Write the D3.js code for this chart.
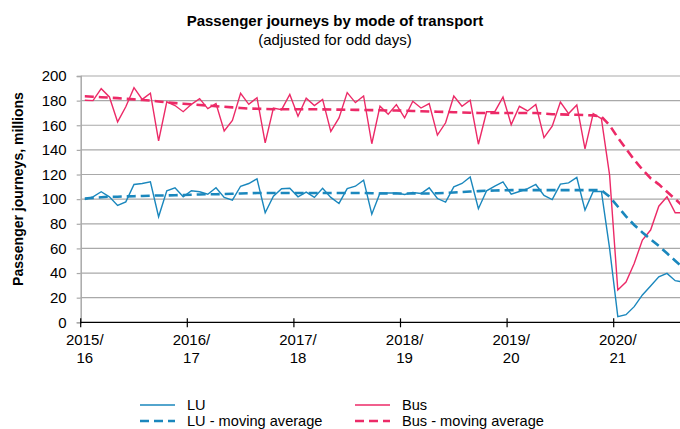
<!DOCTYPE html>
<html>
<head>
<meta charset="utf-8">
<script src="https://cdn.jsdelivr.net/npm/d3@7"></script>
<style>
  body { margin: 0; background: #fff; }
  svg { display: block; font-family: "Liberation Sans", Arial, sans-serif; }
</style>
</head>
<body>
<script>
// financial years, 13 four-week periods each
var years = ["2015/16", "2016/17", "2017/18", "2018/19", "2019/20", "2020/21"];

var lu = [
  99.7, 101.9, 106, 101.9, 94.9, 97.8, 111.9, 112.7, 114, 85.7, 106.8, 109.2, 101.9,
  106.8, 106, 104, 109.2, 101.4, 99.2, 110.5, 112.7, 116.5, 89, 102.4, 108.4, 108.9,
  101.9, 105.7, 101.4, 108.9, 101.4, 96.5, 108.6, 110.5, 115.4, 87.8, 105, 105, 105,
  103.8, 105.4, 104.6, 109.2, 100.5, 97.6, 110, 112.7, 118, 92.2, 106.8, 110.5, 114,
  104, 106.2, 108.6, 111.9, 103, 99.7, 112.2, 113.2, 117.6, 91.1, 106.2, 106.2, 60,
  4.6, 6.2, 12.7, 22.2, 29.5, 37, 39.7, 33.8, 32.7
];

var bus = [
  180.3, 180, 189.7, 183, 162.7, 175, 190.5, 181, 186, 147.3, 179, 176, 171,
  177, 181.6, 173.5, 177.6, 155.4, 164, 186, 177, 182.4, 145.7, 174, 172.7, 185,
  167.3, 182, 176, 181, 155, 166, 186.5, 178.4, 183.8, 145, 175.5, 169, 176.8,
  166, 179.5, 174, 177.6, 152, 162, 183.8, 175.4, 180.3, 144.6, 171, 171, 183,
  160.5, 175.4, 171.6, 176.8, 150, 159.2, 178.9, 169.5, 176.5, 140.8, 169.5, 165.4, 119.5,
  26.2, 32.7, 47.8, 66.8, 74.9, 94.3, 101.9, 88.9, 88.9
];

var luAvg = [
  100.5, 101, 101.5, 102, 102, 102.2, 102.4, 102.6, 102.8, 103, 103, 103.2, 103.4,
  103.6, 103.8, 104, 104, 104.2, 104.4, 104.6, 104.8, 105, 105, 105, 105, 105,
  105, 105, 105, 105, 105, 105, 105, 105, 105, 104.8, 104.6, 104.6, 104.6,
  104.6, 104.6, 104.6, 104.6, 104.8, 105, 105.4, 105.8, 106.2, 106.5, 106.8, 107, 107.2,
  107.3, 107.3, 107.3, 107.3, 107.3, 107.3, 107.3, 107.3, 107.3, 107.3, 107.3, 107.3, 102,
  94, 86, 79, 73, 67.5, 62, 56, 50, 44
];

var busAvg = [
  183.5, 183.2, 182.8, 182.4, 182, 181.5, 181, 180.5, 180, 179.3, 178.6, 178, 177.5,
  177, 176.5, 176, 175.5, 175, 174.5, 174, 173.6, 173.4, 173.2, 173, 173, 173,
  173, 173, 173, 172.9, 172.8, 172.7, 172.6, 172.5, 172.4, 172.3, 172.2, 172, 172,
  171.8, 171.6, 171.4, 171.2, 171, 170.8, 170.6, 170.4, 170.2, 170, 170, 170, 170,
  170, 170, 170, 170, 169.5, 169, 168.8, 168.6, 168.5, 168.3, 168, 167, 160,
  150, 141, 132, 124, 117, 112, 106, 100, 94
];

var yTicks = [0, 20, 40, 60, 80, 100, 120, 140, 160, 180, 200];

var W = 680, H = 429,
    plotLeft = 80.7, plotTop = 76, plotBottom = 322.3,
    perYear = 13, step = 8.2;

var blue = "#1a87bd", pink = "#ec2a67", grid = "#a9a9a9";

var svg = d3.select("body").append("svg")
  .attr("width", W)
  .attr("height", H);

var x = d3.scaleLinear()
  .domain([0, years.length * perYear])
  .range([plotLeft, plotLeft + years.length * perYear * step]);

var y = d3.scaleLinear()
  .domain([0, 200])
  .range([plotBottom, plotTop]);

// title
svg.append("text")
  .attr("x", 335).attr("y", 26)
  .attr("text-anchor", "middle")
  .style("font-size", "15px").style("font-weight", "bold")
  .text("Passenger journeys by mode of transport");
svg.append("text")
  .attr("x", 335).attr("y", 45)
  .attr("text-anchor", "middle")
  .style("font-size", "15px")
  .text("(adjusted for odd days)");

// gridlines
svg.append("g").selectAll("line")
  .data(yTicks.slice(1))
  .join("line")
  .attr("x1", plotLeft).attr("x2", W)
  .attr("y1", function (d) { return y(d); })
  .attr("y2", function (d) { return y(d); })
  .attr("stroke", grid).attr("stroke-width", 1.2);

// y axis
var yAxis = svg.append("g")
  .attr("transform", "translate(" + plotLeft + ",0)")
  .call(d3.axisLeft(y).tickValues(yTicks).tickSize(4).tickPadding(10));
yAxis.select(".domain").attr("stroke", grid).attr("stroke-width", 1.5);
yAxis.selectAll(".tick line").attr("stroke", grid).attr("stroke-width", 1.2);
yAxis.selectAll("text")
  .style("font-size", "15px").attr("fill", "#000")
  .style("font-family", "'Liberation Sans', Arial, sans-serif");

svg.append("text")
  .attr("transform", "translate(23,189) rotate(-90)")
  .attr("text-anchor", "middle")
  .style("font-size", "14px").style("font-weight", "bold")
  .text("Passenger journeys, millions");

// x axis
var xb = svg.append("g")
  .attr("transform", "translate(0," + plotBottom + ")");
xb.append("line")
  .attr("x1", plotLeft).attr("x2", W)
  .attr("stroke", "#000").attr("stroke-width", 1.2);
xb.selectAll(".tk")
  .data(years)
  .join("line")
  .attr("class", "tk")
  .attr("x1", function (d, i) { return x(i * perYear); })
  .attr("x2", function (d, i) { return x(i * perYear); })
  .attr("y1", -4).attr("y2", 5)
  .attr("stroke", "#000").attr("stroke-width", 1.2);

var lab = xb.selectAll(".lab")
  .data(years)
  .join("text")
  .attr("class", "lab")
  .attr("text-anchor", "middle")
  .style("font-size", "15px");
lab.append("tspan")
  .attr("x", function (d, i) { return x(i * perYear + 0.5); })
  .attr("y", 23)
  .text(function (d) { return d.split("/")[0] + "/"; });
lab.append("tspan")
  .attr("x", function (d, i) { return x(i * perYear + 0.5); })
  .attr("y", 41)
  .text(function (d) { return d.split("/")[1]; });

// series
function lineFor(vals) {
  return d3.line()
    .x(function (d, i) { return x(i + 0.5); })
    .y(function (d) { return y(d); })(vals);
}

svg.append("path").attr("d", lineFor(lu))
  .attr("fill", "none").attr("stroke", blue).attr("stroke-width", 1.4);
svg.append("path").attr("d", lineFor(bus))
  .attr("fill", "none").attr("stroke", pink).attr("stroke-width", 1.4);
svg.append("path").attr("d", lineFor(luAvg))
  .attr("fill", "none").attr("stroke", blue).attr("stroke-width", 2.6)
  .attr("stroke-dasharray", "9,5");
svg.append("path").attr("d", lineFor(busAvg))
  .attr("fill", "none").attr("stroke", pink).attr("stroke-width", 2.6)
  .attr("stroke-dasharray", "9,5");

// legend
var legend = [
  {name: "LU", color: blue, dash: null, x: 140, y: 405},
  {name: "LU - moving average", color: blue, dash: "9,5", x: 140, y: 421},
  {name: "Bus", color: pink, dash: null, x: 355, y: 405},
  {name: "Bus - moving average", color: pink, dash: "9,5", x: 355, y: 421}
];
var lg = svg.append("g").selectAll("g")
  .data(legend)
  .join("g")
  .attr("transform", function (d) { return "translate(" + d.x + "," + d.y + ")"; });
lg.append("line")
  .attr("x1", 0).attr("x2", 35)
  .attr("stroke", function (d) { return d.color; })
  .attr("stroke-width", function (d) { return d.dash ? 2.6 : 1.4; })
  .attr("stroke-dasharray", function (d) { return d.dash; });
lg.append("text")
  .attr("x", 47).attr("y", 5)
  .style("font-size", "14.6px")
  .text(function (d) { return d.name; });
</script>
</body>
</html>
